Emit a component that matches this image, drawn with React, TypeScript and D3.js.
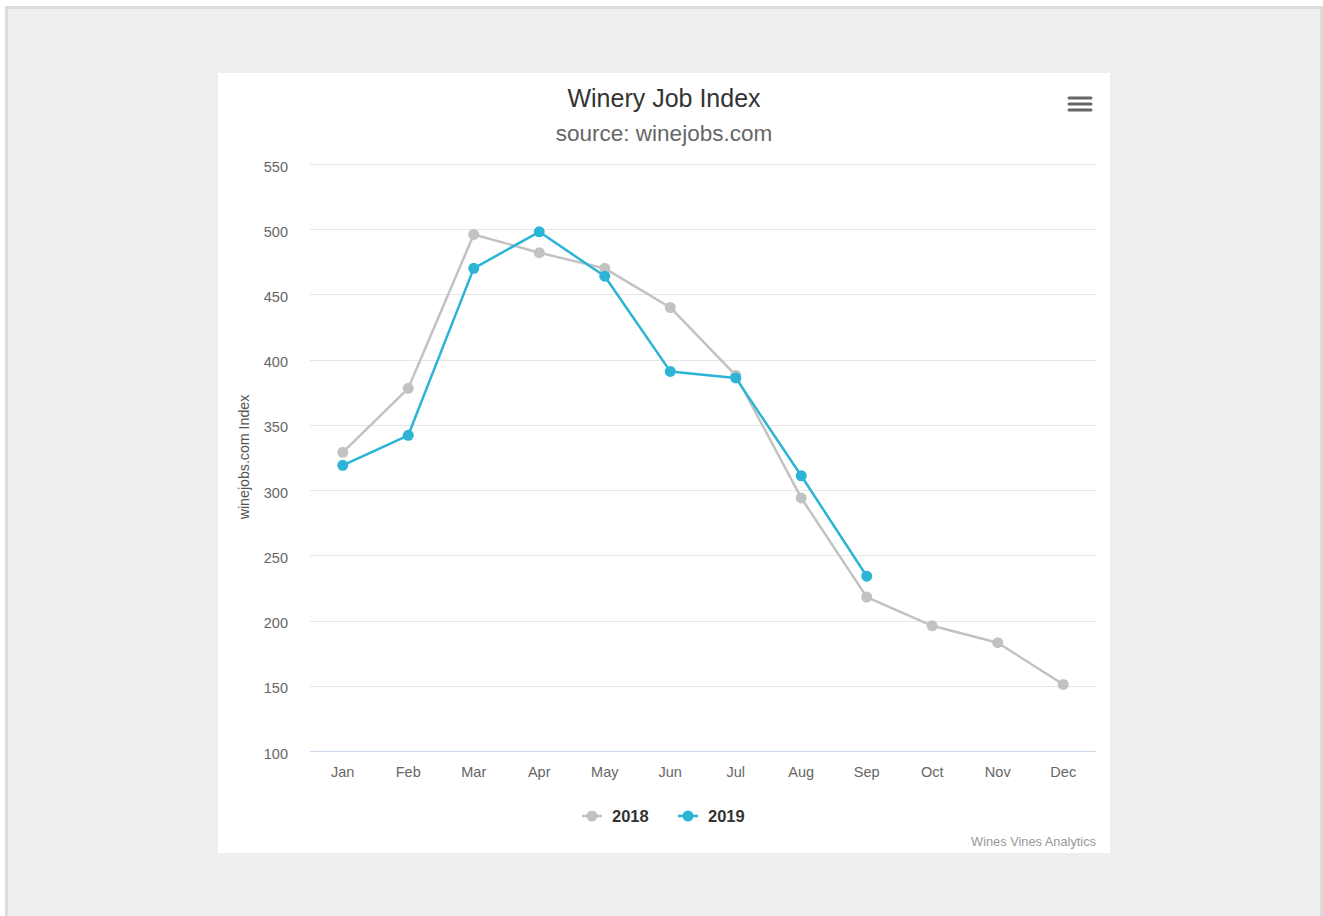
import React, { useEffect, useRef } from "react";
import * as d3 from "d3";

const months = ["Jan", "Feb", "Mar", "Apr", "May", "Jun", "Jul", "Aug", "Sep", "Oct", "Nov", "Dec"];
const series2018: number[] = [329, 378, 496, 482, 470, 440, 388, 294, 218, 196, 183, 151];
const series2019: (number | null)[] = [319, 342, 470, 498, 464, 391, 386, 311, 234, null, null, null];
const yTicks = [100, 150, 200, 250, 300, 350, 400, 450, 500, 550];
const seriesNames = ["2018", "2019"];
const seriesColors = ["#c2c2c2", "#2bb4d6"];

export default function App() {
  const ref = useRef<SVGSVGElement>(null);

  useEffect(() => {
    const svg = d3.select(ref.current);
    svg.selectAll("*").remove();
    const W = 1323, H = 916;

    // page background
    svg.append("rect").attr("x", 5).attr("y", 6).attr("width", W - 5).attr("height", H).attr("fill", "#dcdcdc");
    svg.append("rect").attr("x", 8).attr("y", 9).attr("width", 1312).attr("height", H).attr("fill", "#eeeeee");

    // chart box
    svg.append("rect").attr("x", 218).attr("y", 73).attr("width", 892).attr("height", 780).attr("fill", "#ffffff");

    const left = 310, right = 1096, top = 164, bottom = 751;
    const x = d3.scaleBand<string>().domain(months).range([left, right]);
    const y = d3.scaleLinear().domain([100, 550]).range([bottom, top]);
    const font = "'Liberation Sans', Arial, Helvetica, sans-serif";

    // title
    svg.append("text").attr("x", 664).attr("y", 107).attr("text-anchor", "middle")
      .attr("font-family", font).attr("font-size", 25).attr("fill", "#333333").text("Winery Job Index");
    svg.append("text").attr("x", 664).attr("y", 141).attr("text-anchor", "middle")
      .attr("font-family", font).attr("font-size", 22.5).attr("fill", "#666666").text("source: winejobs.com");

    // hamburger
    const hb = svg.append("g");
    [98, 104, 110].forEach((yy) => {
      hb.append("line").attr("x1", 1069).attr("x2", 1091).attr("y1", yy).attr("y2", yy)
        .attr("stroke", "#666666").attr("stroke-width", 3).attr("stroke-linecap", "round");
    });

    // grid
    const g = svg.append("g");
    yTicks.forEach((t) => {
      g.append("line").attr("x1", left).attr("x2", right).attr("y1", Math.round(y(t)) + 0.5).attr("y2", Math.round(y(t)) + 0.5)
        .attr("stroke", t === 100 ? "#ccd6eb" : "#e6e6e6").attr("stroke-width", 1);
      g.append("text").attr("x", 288).attr("y", y(t) + 7.5).attr("text-anchor", "end")
        .attr("font-family", font).attr("font-size", 14.5).attr("fill", "#666666").text(String(t));
    });

    months.forEach((m) => {
      g.append("text").attr("x", (x(m) as number) + x.bandwidth() / 2).attr("y", 777).attr("text-anchor", "middle")
        .attr("font-family", font).attr("font-size", 14.5).attr("fill", "#666666").text(m);
    });

    // y axis title
    svg.append("text").attr("transform", `translate(249,457) rotate(-90)`).attr("text-anchor", "middle")
      .attr("font-family", font).attr("font-size", 14.2).attr("fill", "#555555").text("winejobs.com Index");

    // series
    const allSeries = [series2018, series2019];
    allSeries.forEach((data, i) => {
      const pts = data.map((v, j) => ({ m: months[j], v })).filter((d) => d.v !== null) as { m: string; v: number }[];
      const line = d3.line<{ m: string; v: number }>()
        .x((d) => (x(d.m) as number) + x.bandwidth() / 2)
        .y((d) => y(d.v));
      svg.append("path").attr("d", line(pts) as string).attr("fill", "none")
        .attr("stroke", seriesColors[i]).attr("stroke-width", 2.5).attr("stroke-linejoin", "round");
      svg.selectAll(null).data(pts).enter().append("circle")
        .attr("cx", (d) => (x(d.m) as number) + x.bandwidth() / 2)
        .attr("cy", (d) => y(d.v)).attr("r", 5.5).attr("fill", seriesColors[i]);
    });

    // legend
    const legendX = [582, 678];
    seriesNames.forEach((n, i) => {
      const lx = legendX[i];
      svg.append("line").attr("x1", lx).attr("x2", lx + 20).attr("y1", 816).attr("y2", 816)
        .attr("stroke", seriesColors[i]).attr("stroke-width", 2.5);
      svg.append("circle").attr("cx", lx + 10).attr("cy", 816).attr("r", 5.5).attr("fill", seriesColors[i]);
      svg.append("text").attr("x", lx + 30).attr("y", 822).attr("font-family", font).attr("font-size", 16.5)
        .attr("font-weight", "bold").attr("fill", "#333333").text(n);
    });

    // credits
    svg.append("text").attr("x", 1096).attr("y", 846).attr("text-anchor", "end")
      .attr("font-family", font).attr("font-size", 12.8).attr("fill", "#999999").text("Wines Vines Analytics");
  }, []);

  return (
    <div style={{ position: "absolute", left: 0, top: 0 }}>
      <svg ref={ref} width={1323} height={916} style={{ display: "block" }} />
    </div>
  );
}
